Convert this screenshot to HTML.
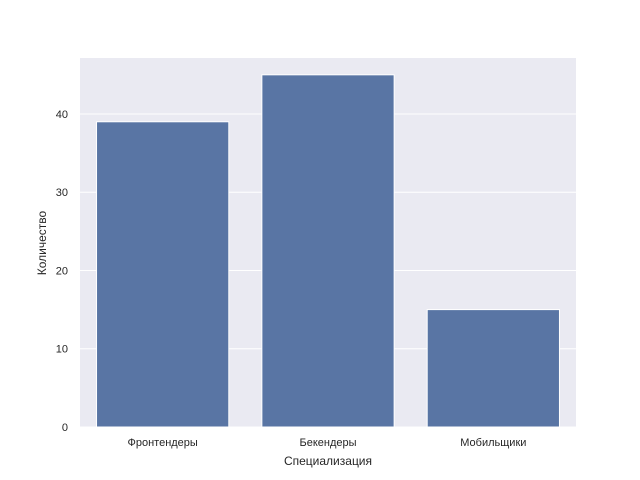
<!DOCTYPE html>
<html><head><meta charset="utf-8"><style>
body{margin:0;background:#fff;}
svg{display:block;font-family:"Liberation Sans","DejaVu Sans",sans-serif;}
</style></head><body>
<svg id="chart" width="640" height="480">
<rect x="80" y="58" width="496" height="369" fill="#eaeaf2"/>
<g id="grid"></g><g id="bars"></g><g id="ticks"></g>
<text x="328" y="465" text-anchor="middle" font-size="12" fill="#262626">Специализация</text>
<text transform="translate(46,243) rotate(-90)" text-anchor="middle" font-size="12" fill="#262626">Количество</text>
</svg>
<script>
const categories=["Фронтендеры","Бекендеры","Мобильщики"];
const values=[39,45,15];
const yTicks=[0,10,20,30,40];
const L=80,R=576,T=58,B=427,yMax=47.15;
const ns="http://www.w3.org/2000/svg";
function y(v){return B-(v/yMax)*(B-T);}
const band=(R-L)/categories.length;
function x(i){return L+band*i;}
function mk(t,a,p){const e=document.createElementNS(ns,t);for(const k in a)e.setAttribute(k,a[k]);document.getElementById(p).appendChild(e);return e;}
yTicks.forEach(v=>{
 const g=mk("line",{x1:L,x2:R,y1:y(v),y2:y(v),stroke:"#fff","stroke-width":1},"grid");
 
 
 const t=mk("text",{x:L-12,y:y(v)+4,"text-anchor":"end","font-size":11,fill:"#262626"},"ticks");
 t.textContent=v;
 
 
});
categories.forEach((c,i)=>{
 const bw=band*0.8;
 const r=mk("rect",{x:x(i)+band*0.1,y:y(values[i]),width:bw,height:B-y(values[i]),fill:"#5975a4",stroke:"#fff","stroke-width":1},"bars");
 
 
 const t=mk("text",{x:x(i)+band/2,y:446,"text-anchor":"middle","font-size":11,fill:"#262626"},"ticks");
 t.textContent=c;
 
 
});
</script>
</body></html>
